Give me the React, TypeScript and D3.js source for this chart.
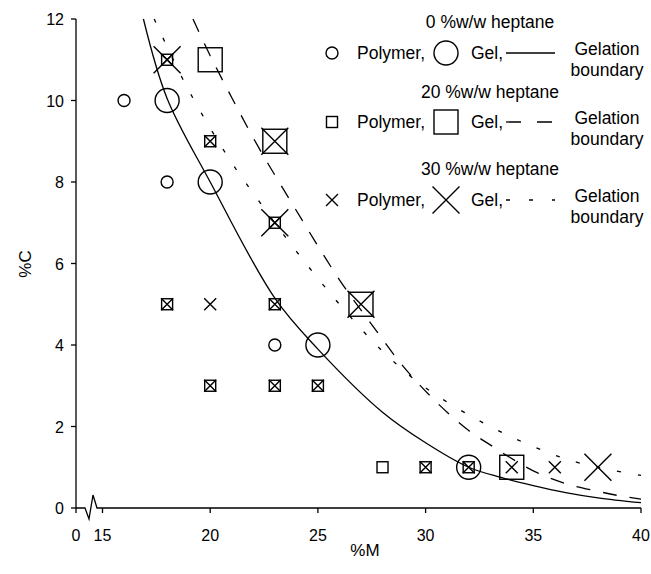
import React from "react";
import * as d3 from "d3";

// tick labels
const xTicks = [15, 20, 25, 30, 35, 40];
const yTicks = [0, 2, 4, 6, 8, 10, 12];

// 0 %w/w heptane
const circlePolymer: [number, number][] = [[16, 10], [18, 8], [23, 4]];
const circleGel: [number, number][] = [[18, 10], [20, 8], [25, 4], [32, 1]];
// 20 %w/w heptane
const squarePolymer: [number, number][] = [
  [18, 11], [20, 9], [23, 7], [18, 5], [23, 5], [20, 3], [23, 3], [25, 3], [28, 1], [30, 1], [32, 1],
];
const squareGel: [number, number][] = [[20, 11], [23, 9], [27, 5], [34, 1]];
// 30 %w/w heptane
const crossPolymer: [number, number][] = [
  [18, 11], [20, 9], [23, 7], [18, 5], [20, 5], [23, 5], [20, 3], [23, 3], [25, 3], [30, 1], [32, 1], [34, 1], [36, 1],
];
const crossGel: [number, number][] = [[18, 11], [23, 7], [23, 9], [27, 5], [38, 1]];

// gelation boundaries
const boundary0: [number, number][] = [
  [16.9, 12], [18, 10.05], [20, 8], [23, 5.15], [25, 3.9], [28, 2.35], [30, 1.6], [32, 1.0], [33.5, 0.75],
  [35, 0.55], [36.5, 0.38], [38, 0.25], [40, 0.13],
];
const boundary20: [number, number][] = [
  [19.2, 12], [20, 11.1], [21.07, 10], [22.3, 8.8], [23.7, 7.56], [26, 5.6], [27.5, 4.5], [29, 3.45], [30.5, 2.6],
  [32, 1.9], [33, 1.55], [34.1, 1.18], [35.2, 0.86], [36.5, 0.6], [37.9, 0.42], [39, 0.3], [40, 0.22],
];
const boundary30: [number, number][] = [
  [17.4, 12], [18.92, 10.33], [20.83, 8.61], [22.4, 7.43], [24, 6.3], [26, 5.0], [28, 3.85], [30, 2.95], [32.85, 2.04],
  [35.4, 1.42], [37.17, 1.1], [40, 0.8],
];

const W = 651;
const H = 574;
const originX = 76;
const font = "'Liberation Sans', Arial, Helvetica, sans-serif";

const x = d3.scaleLinear().domain([15, 40]).range([102.5, 641]);
const y = d3.scaleLinear().domain([0, 12]).range([508, 19]);

const line = d3
  .line<[number, number]>()
  .x((d) => x(d[0]))
  .y((d) => y(d[1]))
  .curve(d3.curveCatmullRom.alpha(0.5));

type Kind = "circleS" | "circleL" | "squareS" | "squareL" | "crossS" | "crossL";

function Marker({ kind, cx, cy }: { kind: Kind; cx: number; cy: number }) {
  const st = { fill: "none", stroke: "#000", strokeWidth: 1.4 };
  if (kind === "circleS") return <circle cx={cx} cy={cy} r={6} {...st} />;
  if (kind === "circleL") return <circle cx={cx} cy={cy} r={12} {...st} />;
  if (kind === "squareS") return <rect x={cx - 5.5} y={cy - 5.5} width={11} height={11} {...st} />;
  if (kind === "squareL") return <rect x={cx - 12} y={cy - 12} width={24} height={24} {...st} />;
  const h = kind === "crossS" ? 6 : 13.5;
  return (
    <path
      d={`M${cx - h},${cy - h}L${cx + h},${cy + h}M${cx - h},${cy + h}L${cx + h},${cy - h}`}
      {...st}
    />
  );
}

const series: { kind: Kind; data: [number, number][] }[] = [
  { kind: "circleS", data: circlePolymer },
  { kind: "circleL", data: circleGel },
  { kind: "squareS", data: squarePolymer },
  { kind: "squareL", data: squareGel },
  { kind: "crossS", data: crossPolymer },
  { kind: "crossL", data: crossGel },
];

const legendRows = [
  { title: "0 %w/w heptane", small: "circleS" as Kind, big: "circleL" as Kind, dash: undefined as string | undefined, ty: 28, my: 53 },
  { title: "20 %w/w heptane", small: "squareS" as Kind, big: "squareL" as Kind, dash: "15,16", ty: 98, my: 122 },
  { title: "30 %w/w heptane", small: "crossS" as Kind, big: "crossL" as Kind, dash: "4,19", ty: 175, my: 200 },
];

export default function App() {
  const y0 = y(0);
  return (
    <svg width={W} height={H} style={{ position: "absolute", left: 0, top: 0, background: "#fff" }}>
      <g fontFamily={font} fontSize={16} fill="#000">
        {/* y axis */}
        <line x1={originX} x2={originX} y1={y(12)} y2={y0 + 5} stroke="#000" strokeWidth={1.3} />
        {yTicks.map((t) => (
          <g key={t}>
            <line x1={originX - 5} x2={originX} y1={y(t)} y2={y(t)} stroke="#000" strokeWidth={1.3} />
            <text x={originX - 12} y={y(t) + 6} textAnchor="end">{t}</text>
          </g>
        ))}
        {/* x axis with break */}
        <path
          d={`M${originX},${y0}H${originX + 9}L${originX + 13},${y0 + 11}L${originX + 17},${y0 - 13}L${originX + 21},${y0}H${x(40)}`}
          fill="none"
          stroke="#000"
          strokeWidth={1.3}
        />
        <text x={originX} y={y0 + 33} textAnchor="middle">0</text>
        {xTicks.map((t) => (
          <g key={t}>
            <line x1={x(t)} x2={x(t)} y1={y0} y2={y0 + 5} stroke="#000" strokeWidth={1.3} />
            <text x={x(t)} y={y0 + 33} textAnchor="middle">{t}</text>
          </g>
        ))}
        <text x={365} y={556} textAnchor="middle" fontSize={17}>%M</text>
        <text transform={`translate(31,264) rotate(-90)`} textAnchor="middle" fontSize={17}>%C</text>

        {/* boundaries */}
        <path d={line(boundary0) ?? ""} fill="none" stroke="#000" strokeWidth={1.3} />
        <path d={line(boundary20) ?? ""} fill="none" stroke="#000" strokeWidth={1.3} strokeDasharray="14,13" />
        <path d={line(boundary30) ?? ""} fill="none" stroke="#000" strokeWidth={1.3} strokeDasharray="4,17" />

        {/* points */}
        {series.map((s) =>
          s.data.map((d, i) => <Marker key={s.kind + i} kind={s.kind} cx={x(d[0])} cy={y(d[1])} />)
        )}

        {/* legend */}
        {legendRows.map((r) => (
          <g key={r.title} fontSize={17.5}>
            <text x={490} y={r.ty} textAnchor="middle">{r.title}</text>
            <Marker kind={r.small} cx={332} cy={r.my} />
            <text x={357} y={r.my + 6}>Polymer,</text>
            <Marker kind={r.big} cx={446} cy={r.my} />
            <text x={471} y={r.my + 6}>Gel,</text>
            <line x1={506} x2={555} y1={r.my} y2={r.my} stroke="#000" strokeWidth={1.3} strokeDasharray={r.dash} />
            <text x={607} y={r.my + 2} textAnchor="middle">Gelation</text>
            <text x={607} y={r.my + 23} textAnchor="middle">boundary</text>
          </g>
        ))}
      </g>
    </svg>
  );
}
